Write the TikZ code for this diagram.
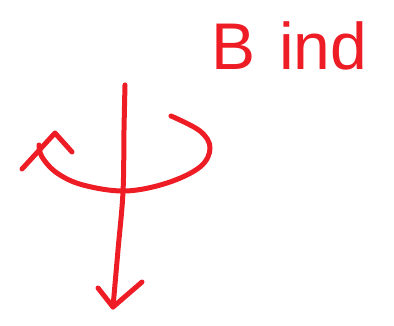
\documentclass[tikz,border=0pt]{standalone}
\usepackage{fontspec}
\setmainfont{Liberation Sans}
\definecolor{pen}{HTML}{EE1C25}
\tikzset{ink/.style={draw=pen,line width=5pt,line cap=round,line join=round}}
\begin{document}
\begin{tikzpicture}[x=1pt,y=-1pt]
\useasboundingbox (0,0) rectangle (394,326);
% vertical axis with arrow
\coordinate (top) at (125,85);
\coordinate (tip) at (113,307);
\draw[ink] plot[smooth,tension=0.6] coordinates {(125,85) (124,130) (123,192) (118,250) (113,307)};
\draw[ink] (98,288) -- (tip) -- (142,282);
% rotation arc
\draw[ink] plot[smooth,tension=0.6] coordinates {(171,116) (200,131) (210,148) (200,167) (167,183) (125,191) (83,185) (57,173) (42,157) (39,145)};
\coordinate (apex) at (55,133);
\draw[ink] (22,169) -- (apex) -- (72,152);
% label
\node[text=pen,font=\fontsize{66}{66}\selectfont,anchor=base west,inner sep=0pt] (lbl) at (211,70) {B\hspace{24pt}ind};
\end{tikzpicture}
\end{document}
